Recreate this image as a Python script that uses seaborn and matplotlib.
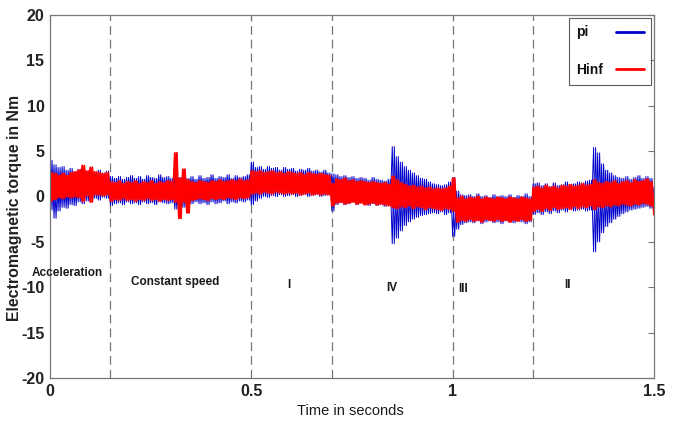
import numpy as np
import pandas as pd
import matplotlib
matplotlib.use("Agg")
import matplotlib.pyplot as plt
import seaborn as sns

# time grid (s), one envelope sample every 10 ms
time_s = np.round(np.arange(0, 151) * 0.01, 3)

# pi controller torque envelope (Nm)
pi_hi = [4.0, 3.5, 3.2, 3.3, 2.9, 3.1, 2.7, 3.0, 3.2, 2.8, 3.1, 2.7, 2.9, 2.6, 2.8,
         2.2, 2.0, 2.2, 1.9, 2.1, 2.3, 2.0, 2.2, 1.9, 2.3, 2.1, 2.0, 2.4, 2.1, 2.2,
         2.0, 2.4, 2.1, 2.3, 2.0, 2.2, 1.9, 2.3, 2.0, 2.1, 2.4, 2.0, 2.2, 2.1, 2.4,
         2.0, 2.3, 2.1, 2.2, 2.4, 3.8, 3.2, 3.3, 3.0, 3.3, 3.1, 3.2, 2.9, 3.2, 3.0,
         3.1, 2.8, 3.0, 2.9, 3.1, 2.8, 2.9, 2.7, 2.9, 2.6, 2.5, 2.4, 2.2, 2.3, 2.1,
         2.2, 2.0, 2.1, 2.0, 1.8, 2.1, 1.9, 1.8, 1.7, 1.9, 5.5, 4.4, 3.8, 3.3, 2.9,
         2.6, 2.3, 2.0, 1.9, 1.6, 1.4, 1.3, 1.2, 1.3, 1.6, 2.1, 0.6, 0.2, 0.1, 0.2,
         0.0, 0.3, 0.0, 0.1, -0.1, 0.2, 0.0, 0.1, 0.0, 0.2, -0.1, 0.1, 0.0, 0.3, 0.0,
         1.4, 1.5, 1.2, 1.4, 1.1, 1.5, 1.2, 1.3, 1.6, 1.2, 1.4, 1.6, 1.5, 1.7, 1.8,
         5.4, 4.8, 3.6, 2.9, 2.6, 2.3, 2.1, 2.0, 2.2, 1.9, 2.1, 2.3, 2.0, 2.2, 2.0,
         1.0]
pi_lo = [-1.5, -2.4, -1.6, -1.2, -1.3, -0.9, -1.0, -0.6, -0.8, -0.5, -0.4, -0.2, -0.4, -0.1, -0.2,
         -1.0, -0.8, -0.7, -0.9, -0.6, -0.8, -0.7, -0.9, -0.6, -0.8, -0.7, -0.9, -0.6, -0.7, -0.8,
         -0.7, -1.4, -1.6, -1.2, -1.0, -0.8, -0.6, -0.8, -0.7, -0.9, -0.6, -0.8, -0.7, -0.5, -0.8,
         -0.6, -0.7, -0.5, -0.6, -0.4, -0.9, -0.5, -0.2, 0.0, -0.1, 0.1, 0.0, 0.2, 0.0, 0.1,
         0.2, 0.0, 0.1, 0.2, 0.0, 0.1, 0.2, 0.0, 0.1, 0.2, -1.6, -0.9, -0.7, -0.9, -0.8,
         -0.6, -0.9, -0.7, -0.8, -1.0, -0.8, -1.0, -0.9, -1.1, -1.0, -5.2, -4.6, -3.8, -3.2, -2.8,
         -2.5, -2.3, -2.1, -2.0, -1.9, -1.8, -1.9, -1.7, -2.0, -1.8, -4.4, -3.6, -3.1, -2.9, -2.8,
         -2.9, -2.7, -3.0, -2.8, -2.7, -2.9, -2.8, -3.0, -2.7, -2.8, -2.9, -2.7, -2.8, -3.0, -2.8,
         -2.0, -1.8, -2.0, -1.7, -1.9, -1.6, -1.8, -1.5, -1.7, -1.4, -1.6, -1.5, -1.4, -1.6, -1.5,
         -6.1, -5.0, -4.0, -3.3, -2.9, -2.5, -2.2, -1.9, -1.7, -1.5, -1.4, -1.3, -1.2, -1.1, -1.3,
         -2.0]

# H-infinity controller torque envelope (Nm)
hinf_hi = [2.6, 2.5, 2.3, 2.5, 2.3, 2.6, 2.7, 2.9, 3.4, 2.8, 3.2, 2.7, 2.6, 2.5, 2.6,
           1.6, 1.5, 1.7, 1.4, 1.6, 1.5, 1.7, 1.4, 1.6, 1.5, 1.7, 1.4, 1.6, 1.5, 1.7,
           1.6, 4.8, 2.0, 3.0, 1.8, 1.6, 1.5, 1.7, 1.6, 1.5, 1.7, 1.6, 1.8, 1.6, 1.7,
           1.8, 1.7, 1.9, 1.7, 1.8, 2.8, 2.7, 2.8, 2.6, 2.7, 2.8, 2.6, 2.7, 2.5, 2.7,
           2.6, 2.5, 2.6, 2.4, 2.6, 2.5, 2.4, 2.5, 2.4, 2.3, 1.4, 1.9, 1.8, 2.0, 1.7,
           1.8, 1.6, 1.7, 1.6, 1.5, 1.6, 1.5, 1.4, 1.5, 1.3, 2.2, 1.8, 1.5, 1.3, 1.1,
           1.2, 1.0, 1.1, 0.9, 1.0, 0.8, 0.9, 0.8, 0.9, 1.1, 2.0, -0.2, 0.0, -0.3, -0.1,
           -0.2, 0.0, -0.3, -0.1, -0.2, -0.3, -0.1, -0.2, -0.3, -0.1, -0.2, -0.3, -0.1, -0.2, -0.3,
           1.0, 1.1, 0.9, 1.2, 1.0, 1.1, 0.9, 1.2, 1.1, 1.3, 1.1, 1.2, 1.4, 1.2, 1.3,
           1.8, 1.5, 1.4, 1.6, 1.5, 1.7, 1.4, 1.6, 1.7, 1.5, 1.8, 1.6, 1.7, 1.9, 1.6,
           0.2]
hinf_lo = [-0.5, -0.3, -0.1, -0.2, 0.0, -0.1, 0.0, -0.1, -0.5, 0.1, -0.6, 0.2, 0.2, 0.1, 0.2,
           -0.5, -0.3, -0.4, -0.2, -0.4, -0.3, -0.5, -0.3, -0.4, -0.2, -0.4, -0.3, -0.5, -0.3, -0.4,
           -0.3, -0.6, -2.4, -0.6, -1.8, -0.4, -0.3, -0.2, -0.3, -0.4, -0.2, -0.3, -0.2, -0.3, -0.1,
           -0.2, -0.3, -0.1, -0.2, -0.1, 0.3, 0.4, 0.3, 0.5, 0.4, 0.3, 0.5, 0.4, 0.3, 0.4,
           0.3, 0.4, 0.2, 0.3, 0.4, 0.2, 0.3, 0.2, 0.3, 0.2, -1.0, -0.7, -0.6, -0.8, -0.7,
           -0.6, -0.8, -0.7, -0.9, -0.8, -0.7, -0.9, -0.8, -0.9, -1.0, -1.2, -1.3, -1.1, -1.2, -1.0,
           -1.3, -1.1, -1.2, -1.4, -1.2, -1.3, -1.4, -1.5, -1.3, -1.4, -1.6, -2.8, -2.6, -2.7, -2.5,
           -2.7, -2.6, -2.8, -2.5, -2.6, -2.7, -2.5, -2.7, -2.6, -2.8, -2.6, -2.7, -2.5, -2.7, -2.6,
           -1.6, -1.4, -1.6, -1.3, -1.5, -1.2, -1.4, -1.3, -1.2, -1.4, -1.1, -1.3, -1.1, -1.2, -1.0,
           -1.4, -1.1, -1.2, -1.0, -1.1, -0.9, -1.0, -0.8, -0.9, -1.0, -0.8, -0.9, -0.7, -0.8, -1.0,
           -2.0]

# operating phases
phase_bounds = [0.15, 0.5, 0.7, 1.0, 1.2]
phase_names = ["Acceleration", "Constant speed", "I", "IV", "III", "II"]
phase_x = [0.042, 0.31, 0.594, 0.85, 1.026, 1.286]
phase_y = [-8.4, -9.4, -9.8, -10.1, -10.2, -9.7]


def oscillation(t, hi, lo, name):
    """Two crossing zig-zags between the upper and lower envelope samples."""
    t = np.asarray(t)
    xs = np.column_stack([t, t + 0.005]).ravel()
    rows = []
    for k, (a, b) in enumerate([(hi, lo), (lo, hi)]):
        ys = np.column_stack([a, b]).ravel()
        rows.append(pd.DataFrame({"t": xs, "torque": ys, "series": name, "phase": k}))
    return pd.concat(rows, ignore_index=True)


df_pi = oscillation(time_s, pi_hi, pi_lo, "pi")
df_hinf = oscillation(time_s, hinf_hi, hinf_lo, "Hinf")

sns.set_theme(style="white")
plt.rcParams["font.family"] = ["Liberation Sans", "DejaVu Sans"]
plt.rcParams["axes.unicode_minus"] = False

fig = plt.figure(figsize=(6.74, 4.25), dpi=100)
ax = fig.add_axes([0.0742, 0.1106, 0.8961, 0.8541])

sns.lineplot(data=df_pi, x="t", y="torque", units="phase", color="#0000cc",
             estimator=None, sort=False, linewidth=0.7, ax=ax, legend=False)
sns.lineplot(data=df_hinf, x="t", y="torque", units="phase", color="#ff0000",
             estimator=None, sort=False, linewidth=1.4, ax=ax, legend=False)

for xb in phase_bounds:
    ax.axvline(xb, color="#777777", lw=0.9, ls=(0, (7, 4)), zorder=0)

for name, px, py in zip(phase_names, phase_x, phase_y):
    ax.text(px, py, name, ha="center", va="center", fontsize=8.5,
            fontweight="bold", color="#1a1a1a")

ax.set_xlim(0, 1.5)
ax.set_ylim(-20, 20)
ax.set_xticks([0, 0.5, 1, 1.5])
ax.set_xticklabels(["0", "0.5", "1", "1.5"])
ax.set_yticks(range(-20, 21, 5))
ax.tick_params(direction="in", length=4, width=0.8, color="#777777",
               top=True, right=True, labelsize=11.5, pad=4)
for lab in ax.get_xticklabels() + ax.get_yticklabels():
    lab.set_fontweight("bold")
    lab.set_color("#222222")
for sp in ax.spines.values():
    sp.set_color("#777777")
    sp.set_linewidth(0.9)

ax.set_xlabel("Time in seconds", fontsize=10.5, color="#1a1a1a")
ax.xaxis.set_label_coords(0.497, -0.072)
ax.set_ylabel("Electromagnetic torque in Nm", fontsize=11.4, fontweight="bold",
              color="#222222")
ax.yaxis.set_label_coords(-0.046, 0.468)

handles = [plt.Line2D([], [], color="#0000cc", lw=2),
           plt.Line2D([], [], color="#ff0000", lw=2)]
leg = ax.legend(handles, ["pi", "Hinf"], loc="upper right", markerfirst=False,
                frameon=True, fancybox=False, edgecolor="#333333", fontsize=10,
                handlelength=2.0, handletextpad=0.9, labelspacing=1.7,
                borderpad=0.55, borderaxespad=0.2)
leg.get_frame().set_linewidth(0.8)
for txt in leg.get_texts():
    txt.set_fontweight("bold")
    txt.set_color("#111111")

# left-align the legend labels (texts sit left, lines right)
fig.canvas.draw()
widths = [t.get_window_extent().width for t in leg.get_texts()]
for t, w in zip(leg.get_texts(), widths):
    t.set_x(-(max(widths) - w))

fig.savefig("out.png", dpi=100)
